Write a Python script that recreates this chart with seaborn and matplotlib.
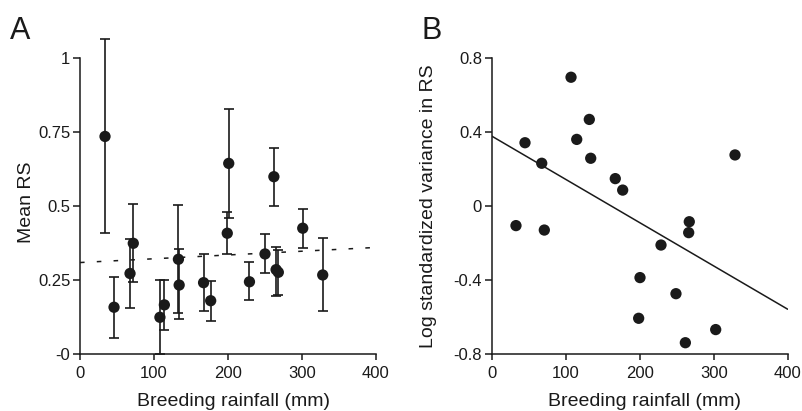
import matplotlib
matplotlib.use("Agg")
import matplotlib.pyplot as plt
import seaborn as sns
import numpy as np
import pandas as pd

# ---- Panel A data ----
rain_a = [33.8, 46, 67.6, 72, 108, 114, 133, 134, 167, 176.6, 199, 201, 229, 250, 262, 265, 268, 301, 328]
mean_rs = [0.735, 0.158, 0.272, 0.374, 0.124, 0.166, 0.32, 0.233, 0.241, 0.18, 0.408, 0.644, 0.244, 0.338, 0.599, 0.285, 0.276, 0.425, 0.267]
err_hi = [1.063, 0.261, 0.39, 0.507, 0.25, 0.25, 0.503, 0.355, 0.338, 0.248, 0.48, 0.829, 0.31, 0.405, 0.697, 0.36, 0.35, 0.49, 0.391]
err_lo = [0.41, 0.053, 0.154, 0.244, 0.0, 0.081, 0.137, 0.117, 0.146, 0.113, 0.337, 0.458, 0.182, 0.275, 0.501, 0.197, 0.2, 0.359, 0.145]
fit_a_x = [0, 400]
fit_a_y = [0.309, 0.36]

# ---- Panel B data ----
rain_b = [45, 67.6, 107.2, 114.9, 131.9, 133.8, 167, 177, 328.8, 32.8, 71.1, 267, 266.2, 228.8, 200.4, 249, 198.6, 302.7, 261.7]
log_var = [0.342, 0.231, 0.696, 0.36, 0.468, 0.258, 0.148, 0.086, 0.276, -0.106, -0.13, -0.085, -0.144, -0.211, -0.387, -0.474, -0.607, -0.668, -0.739]
fit_b_x = [0, 400]
fit_b_y = [0.378, -0.558]

x_ticks = [0, 100, 200, 300, 400]
x_ticklabels = ["0", "100", "200", "300", "400"]
a_yticks = [0, 0.25, 0.5, 0.75, 1]
a_yticklabels = ["-0", "0.25", "0.5", "0.75", "1"]
b_yticks = [-0.8, -0.4, 0, 0.4, 0.8]
b_yticklabels = ["-0.8", "-0.4", "0", "0.4", "0.8"]

sns.set_theme(style="ticks")
plt.rcParams["font.family"] = ["Liberation Sans", "DejaVu Sans"]
ink = "#1a1a1a"
plt.rcParams.update({
    "axes.edgecolor": ink, "axes.linewidth": 1.1,
    "xtick.color": ink, "ytick.color": ink,
    "xtick.major.size": 4.5, "ytick.major.size": 5,
    "xtick.major.width": 1.1, "ytick.major.width": 1.1,
    "xtick.labelsize": 12, "ytick.labelsize": 12,
    "text.color": ink, "axes.labelcolor": ink,
})

fig = plt.figure(figsize=(8.02, 4.11), dpi=100)
W, H = 802, 411
ax_h_px = 319.7
axA = fig.add_axes([80 / W, 1 - 354 / H, 296 / W, ax_h_px / H])
axB = fig.add_axes([491.7 / W, 1 - 354 / H, 296 / W, ax_h_px / H])

# Panel A
dfa = pd.DataFrame({"rain": rain_a, "mean": mean_rs, "hi": err_hi, "lo": err_lo})
axA.errorbar(dfa["rain"], dfa["mean"],
             yerr=[dfa["mean"] - dfa["lo"], dfa["hi"] - dfa["mean"]],
             fmt="none", ecolor=ink, elinewidth=1.2, capsize=3.6, capthick=1.2, zorder=2)
sns.scatterplot(data=dfa, x="rain", y="mean", ax=axA, color=ink, s=66,
                edgecolor="none", zorder=3)
sns.lineplot(x=fit_a_x, y=fit_a_y, ax=axA, color=ink, lw=1.1, linestyle=(0, (3, 8)), zorder=1)
axA.set_xlim(0, 400)
axA.set_ylim(0, ax_h_px / 296)
axA.set_xticks(x_ticks, x_ticklabels)
axA.set_yticks(a_yticks, a_yticklabels)
axA.spines["left"].set_bounds(0, 1)
axA.spines["bottom"].set_bounds(0, 400)
for s in ["top", "right"]:
    axA.spines[s].set_visible(False)
axA.set_xlabel("Breeding rainfall (mm)", fontsize=14)
axA.set_ylabel("Mean RS", fontsize=14)
axA.yaxis.set_label_coords(-0.152, (354 - 202) / ax_h_px)
axA.xaxis.set_label_coords(0.517, -(406 - 354) / ax_h_px)
axA.xaxis.label.set_va("baseline")

# Panel B
dfb = pd.DataFrame({"rain": rain_b, "logvar": log_var})
sns.scatterplot(data=dfb, x="rain", y="logvar", ax=axB, color=ink, s=66,
                edgecolor="none", zorder=3)
sns.lineplot(x=fit_b_x, y=fit_b_y, ax=axB, color=ink, lw=1.1, zorder=2)
axB.set_xlim(0, 400)
axB.set_ylim(-0.8, -0.8 + ax_h_px / 185)
axB.set_xticks(x_ticks, x_ticklabels)
axB.set_yticks(b_yticks, b_yticklabels)
axB.spines["left"].set_bounds(-0.8, 0.8)
axB.spines["bottom"].set_bounds(0, 400)
for s in ["top", "right"]:
    axB.spines[s].set_visible(False)
axB.set_xlabel("Breeding rainfall (mm)", fontsize=14)
axB.set_ylabel("Log standardized variance in RS", fontsize=14)
axB.yaxis.set_label_coords(-0.185, (354 - 206) / ax_h_px)
axB.xaxis.set_label_coords(0.515, -(406 - 354) / ax_h_px)
axB.xaxis.label.set_va("baseline")

for ax in (axA, axB):
    ax.patch.set_alpha(0)
    ax.tick_params(axis="y", direction="out", pad=2)
    ax.tick_params(axis="x", direction="out", pad=4)

fig.text(10 / W, 1 - 39 / H, "A", fontsize=22, color=ink, ha="left", va="baseline")
fig.text(421 / W, 1 - 39 / H, "B", fontsize=22, color=ink, ha="left", va="baseline")

fig.savefig("out.png", dpi=100)
